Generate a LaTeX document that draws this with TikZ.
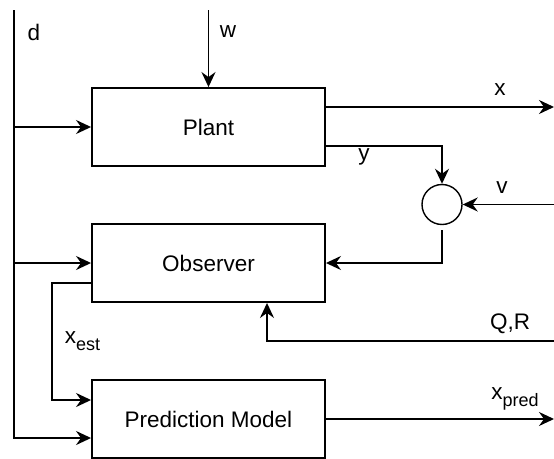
\documentclass[tikz,border=0pt]{standalone}
\usepackage{fontspec}
\setmainfont{Liberation Sans}
\usetikzlibrary{arrows.meta}
\begin{document}
\begin{tikzpicture}[x=1pt,y=-1pt,
  line width=1.9pt,
  tip/.style={-{Stealth[length=15pt,width=14pt,inset=5pt]}},
  blk/.style={draw, minimum width=233pt, minimum height=78pt, inner sep=0pt, font=\fontsize{22.5}{27}\selectfont},
  lbl/.style={inner sep=0pt, font=\fontsize{22.5}{27}\selectfont}]
\useasboundingbox (0,0) rectangle (554,458);
% blocks
\node[blk] (plant) at (208.5,127) {Plant};
\node[blk] (obs) at (208.5,263) {Observer};
\node[blk] (pred) at (208.5,419) {Prediction Model};
\node[draw, circle, minimum size=40pt, inner sep=0pt, line width=1.4pt] (sum) at (442,204.5) {};
% free ends
\coordinate (dtop) at (14,10);
\coordinate (wtop) at (208.5,10);
\coordinate (xout) at (554,107);
\coordinate (vin) at (554,204.5);
\coordinate (qrin) at (554,341);
\coordinate (xpout) at (554,419);
\coordinate (ystart) at (325,146);
% d line and branches
\draw[tip] (dtop) |- ([yshift=-19pt]pred.west);
\draw[tip] (dtop |- plant.west) -- (plant.west);
\draw[tip] (dtop |- obs.west) -- (obs.west);
% w
\draw[tip] (wtop) -- (plant.north);
% x
\draw[tip] (plant.east |- xout) -- (xout);
% y
\draw[tip] (ystart) -| (sum.north);
% v
\draw[tip] (vin) -- (sum.east);
% sum to observer
\draw[tip, shorten <=5pt] (sum.south) |- (obs.east);
% Q,R
\draw[tip] (qrin) -| ([xshift=58.5pt]obs.south);
% x_est
\draw[tip] ([yshift=-20pt]obs.west) -- ++(-39,0) |- ([yshift=19pt]pred.west);
% x_pred
\draw[tip] (pred.east) -- (xpout);
% labels
\node[lbl] (ld) at (34,32) {d};
\node[lbl] (lw) at (228,32) {w};
\node[lbl] (lx) at (500,90) {x};
\node[lbl] (ly) at (364,157) {y};
\node[lbl] (lv) at (502,188) {v};
\node[lbl] (lqr) at (510,324) {Q,R};
\node[lbl, anchor=west] (lxe) at (64,341) {x\raisebox{-0.3em}{\fontsize{18}{20}\selectfont est}};
\node[lbl] (lxp) at (515,399) {x\raisebox{-0.3em}{\fontsize{18}{20}\selectfont pred}};
\end{tikzpicture}
\end{document}
